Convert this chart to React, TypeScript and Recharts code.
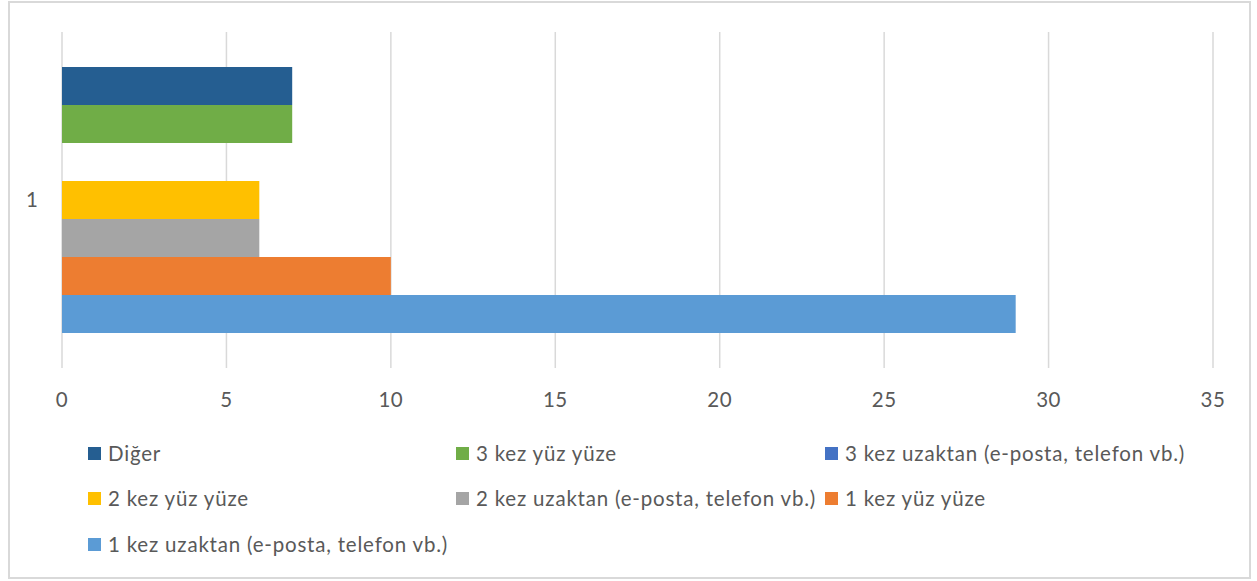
import React from 'react';
import { BarChart, Bar, XAxis, YAxis, CartesianGrid } from 'recharts';

const categories = ['1'];
const digerValues = [7];
const ucKezYuzYuzeValues = [7];
const ucKezUzaktanValues = [0];
const ikiKezYuzYuzeValues = [6];
const ikiKezUzaktanValues = [6];
const birKezYuzYuzeValues = [10];
const birKezUzaktanValues = [29];

const seriesNames = [
  'Diğer',
  '3 kez yüz yüze',
  '3 kez uzaktan (e-posta, telefon vb.)',
  '2 kez yüz yüze',
  '2 kez uzaktan (e-posta, telefon vb.)',
  '1 kez yüz yüze',
  '1 kez uzaktan (e-posta, telefon vb.)',
];
const seriesValues = [
  digerValues,
  ucKezYuzYuzeValues,
  ucKezUzaktanValues,
  ikiKezYuzYuzeValues,
  ikiKezUzaktanValues,
  birKezYuzYuzeValues,
  birKezUzaktanValues,
];
const seriesColors = ['#255E91', '#70AD47', '#4472C4', '#FFC000', '#A5A5A5', '#ED7D31', '#5B9BD5'];
const xTicks = [0, 5, 10, 15, 20, 25, 30, 35];

const keys = seriesNames.map((_, i) => `s${i}`);
const data = categories.map((c, ci) => {
  const row: Record<string, string | number> = { name: c };
  seriesValues.forEach((vals, si) => {
    row[keys[si]] = vals[ci];
  });
  return row;
});

const FONT = 'Lato, "Open Sans", sans-serif';
const TEXT = '#595959';
const FS = 20.5;

export default function App() {
  const legendCols = [88, 456, 825];
  const legendRows = [453, 498, 544];
  return (
    <div style={{ position: 'absolute', left: 0, top: 0, width: 1257, height: 581, background: '#fff', fontFamily: FONT }}>
      <div
        style={{
          position: 'absolute',
          left: 8,
          top: 1,
          width: 1243,
          height: 578,
          border: '2px solid #D9D9D9',
          boxSizing: 'border-box',
        }}
      />
      <div style={{ position: 'absolute', left: 0, top: 0 }}>
        <BarChart
          width={1257}
          height={581}
          data={data}
          layout="vertical"
          margin={{ top: 32, right: 44, left: 0, bottom: 212 }}
          barCategoryGap={35}
          barGap={0}
        >
          <CartesianGrid horizontal={false} stroke="#D9D9D9" strokeWidth={1.5} />
          <XAxis
            type="number"
            domain={[0, 35]}
            ticks={xTicks}
            axisLine={false}
            tickLine={false}
            tickSize={0}
            tickMargin={24}
            height={1}
            tick={{ fill: TEXT, fontSize: FS, fontFamily: FONT, letterSpacing: 0.5 }}
          />
          <YAxis
            type="category"
            dataKey="name"
            width={62}
            axisLine={false}
            tickLine={false}
            tickSize={0}
            tickMargin={24}
            tick={{ fill: TEXT, fontSize: FS, fontFamily: FONT }}
          />
          {keys.map((k, i) => (
            <Bar key={k} dataKey={k} name={seriesNames[i]} fill={seriesColors[i]} isAnimationActive={false} />
          ))}
        </BarChart>
      </div>
      {seriesNames.map((n, i) => {
        const col = i % 3;
        const row = Math.floor(i / 3);
        return (
          <div
            key={n}
            style={{
              position: 'absolute',
              left: legendCols[col],
              top: legendRows[row] - 14,
              height: 28,
              display: 'flex',
              alignItems: 'center',
              whiteSpace: 'nowrap',
              color: TEXT,
              fontSize: FS,
              letterSpacing: 0.8,
            }}
          >
            <span style={{ display: 'inline-block', width: 13, height: 13, background: seriesColors[i], marginRight: 7 }} />
            <span>{n}</span>
          </div>
        );
      })}
    </div>
  );
}
